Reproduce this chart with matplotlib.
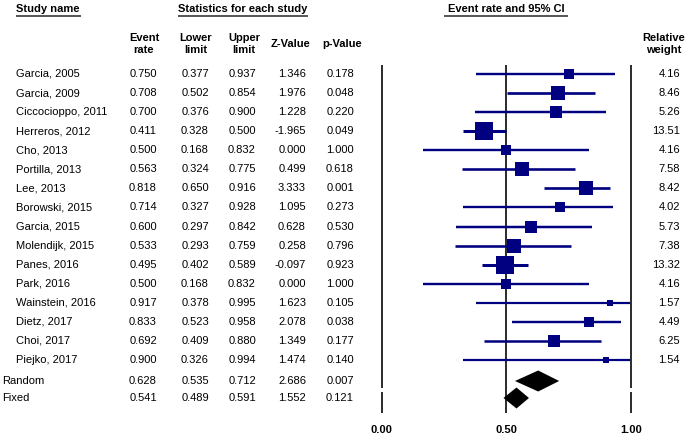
'''
Forest plot: event rate and 95% CI per study.
'''

import matplotlib
matplotlib.use('Agg')
import matplotlib.pyplot as plt
import numpy as np

plt.rcParams['font.family'] = ['Liberation Sans', 'DejaVu Sans']

studies = ['Garcia, 2005', 'Garcia, 2009', 'Ciccocioppo, 2011', 'Herreros, 2012',
           'Cho, 2013', 'Portilla, 2013', 'Lee, 2013', 'Borowski, 2015',
           'Garcia, 2015', 'Molendijk, 2015', 'Panes, 2016', 'Park, 2016',
           'Wainstein, 2016', 'Dietz, 2017', 'Choi, 2017', 'Piejko, 2017']
event_rate = [0.750, 0.708, 0.700, 0.411, 0.500, 0.563, 0.818, 0.714,
              0.600, 0.533, 0.495, 0.500, 0.917, 0.833, 0.692, 0.900]
lower = [0.377, 0.502, 0.376, 0.328, 0.168, 0.324, 0.650, 0.327,
         0.297, 0.293, 0.402, 0.168, 0.378, 0.523, 0.409, 0.326]
upper = [0.937, 0.854, 0.900, 0.500, 0.832, 0.775, 0.916, 0.928,
         0.842, 0.759, 0.589, 0.832, 0.995, 0.958, 0.880, 0.994]
zval = [1.346, 1.976, 1.228, -1.965, 0.000, 0.499, 3.333, 1.095,
        0.628, 0.258, -0.097, 0.000, 1.623, 2.078, 1.349, 1.474]
pval = [0.178, 0.048, 0.220, 0.049, 1.000, 0.618, 0.001, 0.273,
        0.530, 0.796, 0.923, 1.000, 0.105, 0.038, 0.177, 0.140]
weight = [4.16, 8.46, 5.26, 13.51, 4.16, 7.58, 8.42, 4.02,
          5.73, 7.38, 13.32, 4.16, 1.57, 4.49, 6.25, 1.54]

pooled_names = ['Random', 'Fixed']
pooled_rate = [0.628, 0.541]
pooled_lower = [0.535, 0.489]
pooled_upper = [0.712, 0.591]
pooled_z = [2.686, 1.552]
pooled_p = [0.007, 0.121]

ticks = [0.0, 0.5, 1.0]
tick_labels = ['0.00', '0.50', '1.00']

navy = '#000080'
fs = 8

W, H = 685, 436
fig = plt.figure(figsize=(W / 100, H / 100), dpi=100)

# rows in y units: one unit per study row
px_row = 19.07
y0_px = 74
ytop = -y0_px / px_row
ybot = (H - y0_px) / px_row
pooled_y = [(381 - y0_px) / px_row, (398 - y0_px) / px_row]

def py(p):
    return (p - y0_px) / px_row

# text layer in pixel x coordinates
tx = fig.add_axes([0, 0, 1, 1])
tx.set_xlim(0, W)
tx.set_ylim(ybot, ytop)
tx.axis('off')

# forest layer
ax = fig.add_axes([381.5 / W, 0, 249.5 / W, 1])
ax.set_xlim(0, 1)
ax.set_ylim(ybot, ytop)
ax.axis('off')

# headers
hdr = dict(fontsize=fs, fontweight='bold', va='center')
tx.text(16, py(9), 'Study name', ha='left', **hdr)
tx.text(178, py(9), 'Statistics for each study', ha='left', **hdr)
tx.text(506, py(9), 'Event rate and 95% CI', ha='center', **hdr)
for x1, x2 in [(16, 81), (178, 308), (444, 568)]:
    tx.plot([x1, x2], [py(16), py(16)], color='#555555', lw=1.4,
            solid_capstyle='butt')

cols = [(144, 'Event\nrate'), (196, 'Lower\nlimit'), (244, 'Upper\nlimit'),
        (291, 'Z-Value'), (342, 'p-Value'), (664, 'Relative\nweight')]
for x, lab in cols:
    tx.text(x, py(44), lab, ha='center', fontsize=fs, fontweight='bold',
            va='center', linespacing=1.15)

col_right = [157, 209, 256, 306, 354]

for i, name in enumerate(studies):
    tx.text(16, i, name, ha='left', va='center', fontsize=fs)
    vals = ['%.3f' % event_rate[i], '%.3f' % lower[i], '%.3f' % upper[i],
            '%.3f' % zval[i], '%.3f' % pval[i]]
    for x, v in zip(col_right, vals):
        tx.text(x, i, v, ha='right', va='center', fontsize=fs)
    tx.text(680, i, '%.2f' % weight[i], ha='right', va='center', fontsize=fs)

for j, name in enumerate(pooled_names):
    y = pooled_y[j]
    tx.text(2, y, name, ha='left', va='center', fontsize=fs)
    vals = ['%.3f' % pooled_rate[j], '%.3f' % pooled_lower[j],
            '%.3f' % pooled_upper[j], '%.3f' % pooled_z[j], '%.3f' % pooled_p[j]]
    for x, v in zip(col_right, vals):
        tx.text(x, y, v, ha='right', va='center', fontsize=fs)

# reference lines
top = py(65)
vl = dict(color='#1a1a1a', lw=1.3, clip_on=False, solid_capstyle='butt')
for xv in [0, 1]:
    ax.plot([xv, xv], [top, py(388)], **vl)
    ax.plot([xv, xv], [py(392), py(413)], **vl)
ax.plot([0.5, 0.5], [top, py(413)], **vl)

# studies
for i in range(len(studies)):
    lw = 1.5 + 0.05 * weight[i]
    ax.plot([lower[i], min(upper[i], 1.0)], [i, i], color=navy, lw=lw,
            solid_capstyle='butt', zorder=3)
    side = 4.9 * np.sqrt(weight[i]) * 0.72  # points
    ax.plot(event_rate[i], i, marker='s', ms=side, color=navy, mew=0, zorder=4)

# pooled diamonds
half_h = 10.5 / px_row
for j in range(2):
    y = pooled_y[j]
    xs = [pooled_lower[j], pooled_rate[j], pooled_upper[j], pooled_rate[j]]
    ys = [y, y - half_h, y, y + half_h]
    ax.fill(xs, ys, color='black', lw=0, zorder=4)

for t, lab in zip(ticks, tick_labels):
    ax.text(t, py(430), lab, ha='center', va='center', fontsize=fs,
            fontweight='bold', clip_on=False)

fig.savefig('out.png', dpi=100)
